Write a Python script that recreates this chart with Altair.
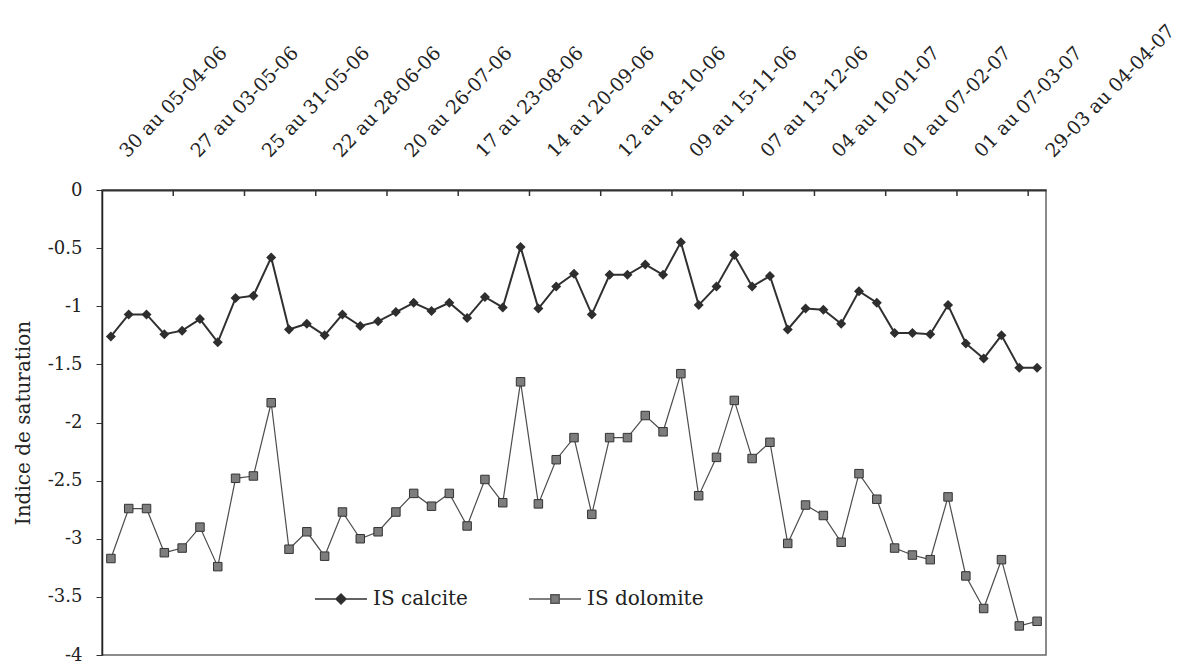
import altair as alt
import pandas as pd

tick_labels = [
    "30 au 05-04-06", "27 au 03-05-06", "25 au 31-05-06", "22 au 28-06-06",
    "20 au 26-07-06", "17 au 23-08-06", "14 au 20-09-06", "12 au 18-10-06",
    "09 au 15-11-06", "07 au 13-12-06", "04 au 10-01-07", "01 au 07-02-07",
    "01 au 07-03-07", "29-03 au 04-04-07",
]

calcite = [
    -1.26, -1.07, -1.07, -1.24, -1.21, -1.11, -1.31, -0.93, -0.91, -0.58,
    -1.20, -1.15, -1.25, -1.07, -1.17, -1.13, -1.05, -0.97, -1.04, -0.97,
    -1.10, -0.92, -1.01, -0.49, -1.02, -0.83, -0.72, -1.07, -0.73, -0.73,
    -0.64, -0.73, -0.45, -0.99, -0.83, -0.56, -0.83, -0.74, -1.20, -1.02,
    -1.03, -1.15, -0.87, -0.97, -1.23, -1.23, -1.24, -0.99, -1.32, -1.45,
    -1.25, -1.53, -1.53,
]

dolomite = [
    -3.17, -2.74, -2.74, -3.12, -3.08, -2.90, -3.24, -2.48, -2.46, -1.83,
    -3.09, -2.94, -3.15, -2.77, -3.00, -2.94, -2.77, -2.61, -2.72, -2.61,
    -2.89, -2.49, -2.69, -1.65, -2.70, -2.32, -2.13, -2.79, -2.13, -2.13,
    -1.94, -2.08, -1.58, -2.63, -2.30, -1.81, -2.31, -2.17, -3.04, -2.71,
    -2.80, -3.03, -2.44, -2.66, -3.08, -3.14, -3.18, -2.64, -3.32, -3.60,
    -3.18, -3.75, -3.71,
]

series_names = ["IS calcite", "IS dolomite"]
y_ticks = [0, -0.5, -1, -1.5, -2, -2.5, -3, -3.5, -4]
label_step = 4

FONT = "DejaVu Serif"
n = len(calcite)
idx = list(range(1, n + 1))
df_c = pd.DataFrame({"idx": idx, "value": calcite, "series": series_names[0]})
df_d = pd.DataFrame({"idx": idx, "value": dolomite, "series": series_names[1]})
df_all = pd.concat([df_c, df_d], ignore_index=True)

label_pos = idx[::label_step]
boundaries = [p - 0.5 for p in label_pos[1:]]
df_ticks = pd.DataFrame({"idx": boundaries})

js_labels = "[" + ",".join("'%s'" % t for t in tick_labels) + "]"

xscale = alt.Scale(domain=[0.5, n + 0.5], nice=False, zero=False)
yscale = alt.Scale(domain=[-4, 0], nice=False, zero=False)

x_axis = alt.Axis(
    orient="top", values=label_pos,
    labelExpr=f"{js_labels}[round((datum.value-1)/{label_step})]",
    labelAngle=-46, labelAlign="left", labelBaseline="alphabetic",
    labelFlush=False, labelOverlap=False, labelBound=False,
    ticks=False, tickSize=0, grid=False,
    domainColor="#333333", domainWidth=2,
    labelFont=FONT, labelFontSize=19, labelColor="#222222",
    labelPadding=32, labelOffset=16, title=None,
)
y_axis = alt.Axis(
    values=y_ticks,
    labelExpr="datum.value == 0 ? '0' : '-' + format(-datum.value, '')",
    ticks=True, tickSize=6, tickColor="#333333", tickWidth=1,
    domainColor="#222222", domainWidth=1.5, grid=False,
    labelFont=FONT, labelFontSize=18, labelColor="#222222", labelPadding=14,
    title="Indice de saturation", titleFont=FONT, titleFontSize=20,
    titleFontWeight="normal", titleColor="#222222",
    titleX=-73, titleY=232.5, titleAngle=-90,
    titleAlign="center", titleBaseline="alphabetic",
)


def X():
    return alt.X("idx:Q", scale=xscale, axis=x_axis)


def Y():
    return alt.Y("value:Q", scale=yscale, axis=y_axis)


line_c = alt.Chart(df_c).mark_line(color="#303030", strokeWidth=2).encode(x=X(), y=Y())
line_d = alt.Chart(df_d).mark_line(color="#4d4d4d", strokeWidth=1.2).encode(x=X(), y=Y())
pts_c = alt.Chart(df_c).mark_point(
    shape="diamond", filled=True, size=100, color="#2e2e2e", opacity=1
).encode(x=X(), y=Y())
pts_d = alt.Chart(df_d).mark_point(
    shape="square", filled=True, size=72, fill="#7d7d7d", stroke="#333333",
    strokeWidth=1, opacity=1
).encode(x=X(), y=Y())

tick_layer = alt.Chart(df_ticks).mark_rule(color="#333333", strokeWidth=1.5).encode(
    x=X(), y=alt.value(0), y2=alt.value(6)
)

path_c = "M-1,0L-0.19,0M0.19,0L1,0M0,-0.19L0.19,0L0,0.19L-0.19,0Z"
path_d = "M-1,0L-0.16,0M0.16,0L1,0M-0.16,-0.16L0.16,-0.16L0.16,0.16L-0.16,0.16Z"

leg = alt.Legend(
    orient="none", legendX=212, legendY=382, direction="horizontal", title=None,
    labelFont=FONT, labelFontSize=20, labelColor="#222222",
    symbolSize=2704, symbolStrokeWidth=1.5, labelOffset=5, columnPadding=58,
    padding=0,
)
legend_layer = alt.Chart(df_all).transform_filter("false").mark_point(
    filled=True, opacity=1, strokeWidth=1.5
).encode(
    shape=alt.Shape("series:N", scale=alt.Scale(domain=series_names, range=[path_c, path_d]), legend=leg),
    fill=alt.Fill("series:N", scale=alt.Scale(domain=series_names, range=["#2e2e2e", "#7d7d7d"]), legend=leg),
    stroke=alt.Stroke("series:N", scale=alt.Scale(domain=series_names, range=["#303030", "#555555"]), legend=leg),
)

chart = alt.layer(line_c, line_d, pts_c, pts_d, tick_layer, legend_layer).properties(
    width=944, height=465,
    padding={"left": 94, "top": 182, "right": 135, "bottom": 10},
    autosize=alt.AutoSizeParams(type="none"),
    background="white",
).configure_view(stroke="#666666", strokeWidth=1.5)

chart.save("out.html", embed_options={"renderer": "svg", "actions": False})
